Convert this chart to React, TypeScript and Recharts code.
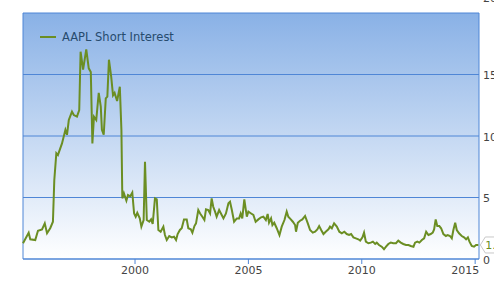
import React from 'react';
import { LineChart, Line, XAxis, YAxis, CartesianGrid, Legend, LabelList } from 'recharts';

const seriesName = 'AAPL Short Interest';

const years = [
  1995.06, 1995.31, 1995.38, 1995.60, 1995.72, 1995.90, 1996.02, 1996.12, 1996.26, 1996.38,
  1996.44, 1996.53, 1996.60, 1996.78, 1996.93, 1997.00, 1997.08, 1997.22, 1997.30, 1997.44,
  1997.54, 1997.60, 1997.71, 1997.85, 1997.96, 1998.05, 1998.12, 1998.19, 1998.29, 1998.40,
  1998.49, 1998.54, 1998.62, 1998.71, 1998.78, 1998.85, 1998.95, 1999.03, 1999.10, 1999.21,
  1999.33, 1999.40, 1999.44, 1999.51, 1999.62, 1999.69, 1999.79, 1999.88, 1999.96, 2000.03,
  2000.10, 2000.21, 2000.28, 2000.38, 2000.44, 2000.52, 2000.63, 2000.71, 2000.78, 2000.88,
  2000.96, 2001.03, 2001.13, 2001.25, 2001.32, 2001.40, 2001.51, 2001.62, 2001.72, 2001.81,
  2001.88, 2001.98, 2002.06, 2002.16, 2002.28, 2002.35, 2002.46, 2002.53, 2002.62, 2002.69,
  2002.79, 2002.87, 2002.97, 2003.06, 2003.13, 2003.23, 2003.31, 2003.38, 2003.45, 2003.53,
  2003.60, 2003.71, 2003.79, 2003.90, 2004.01, 2004.12, 2004.19, 2004.27, 2004.37, 2004.49,
  2004.59, 2004.66, 2004.73, 2004.82, 2004.93, 2005.00, 2005.12, 2005.22, 2005.32, 2005.44,
  2005.56, 2005.66, 2005.77, 2005.85, 2005.91, 2006.00, 2006.06, 2006.14, 2006.25, 2006.37,
  2006.47, 2006.59, 2006.69, 2006.76, 2006.87, 2006.96, 2007.06, 2007.10, 2007.18, 2007.28,
  2007.38, 2007.50, 2007.62, 2007.72, 2007.84, 2007.94, 2008.04, 2008.12, 2008.21, 2008.31,
  2008.41, 2008.53, 2008.60, 2008.68, 2008.78, 2008.90, 2009.01, 2009.12, 2009.23, 2009.34,
  2009.44, 2009.53, 2009.63, 2009.74, 2009.85, 2009.93, 2010.03, 2010.10, 2010.18, 2010.29,
  2010.40, 2010.49, 2010.59, 2010.66, 2010.76, 2010.88, 2010.98, 2011.07, 2011.17, 2011.28,
  2011.39, 2011.51, 2011.61, 2011.72, 2011.83, 2011.95, 2012.06, 2012.16, 2012.28, 2012.35,
  2012.45, 2012.54, 2012.65, 2012.75, 2012.84, 2012.94, 2013.04, 2013.13, 2013.19, 2013.26,
  2013.33, 2013.42, 2013.50, 2013.60, 2013.71, 2013.79, 2013.89, 2013.97, 2014.04, 2014.12,
  2014.19, 2014.29, 2014.41, 2014.51, 2014.60, 2014.68, 2014.75, 2014.85, 2014.95, 2015.04,
  2015.14,
];

const shortInterest = [
  1.28, 2.14, 1.60, 1.54, 2.30, 2.41, 2.90, 2.09, 2.50, 3.03,
  6.40, 8.60, 8.45, 9.40, 10.50, 10.10, 11.30, 11.98, 11.70, 11.57,
  12.10, 16.85, 15.40, 17.05, 15.50, 15.20, 9.40, 11.57, 11.30, 13.50,
  12.40, 10.50, 10.10, 13.06, 13.20, 16.20, 14.80, 13.30, 13.50, 12.85,
  14.00, 10.50, 4.93, 5.34, 4.74, 5.20, 5.10, 5.40, 3.70, 3.44,
  3.76, 3.30, 2.63, 3.17, 7.90, 3.17, 3.03, 3.22, 2.85, 4.93,
  4.85, 2.36, 2.22, 2.63, 1.95, 1.54, 1.87, 1.76, 1.81, 1.54,
  2.03, 2.36, 2.50, 3.22, 3.22, 2.50, 2.41, 2.14, 2.68, 2.90,
  3.98, 3.70, 3.44, 3.17, 4.04, 3.98, 3.70, 4.93, 4.25, 3.85,
  3.44, 3.98, 3.70, 3.30, 3.70, 4.53, 4.66, 3.98, 3.03, 3.30,
  3.30, 3.70, 3.30, 4.85, 3.44, 3.85, 3.70, 3.58, 3.03, 3.22,
  3.39, 3.44, 3.17, 3.66, 2.95, 3.30, 2.76, 2.95, 2.50, 1.95,
  2.63, 3.17, 3.85, 3.44, 3.22, 3.03, 2.76, 2.22, 2.95, 3.11,
  3.22, 3.50, 2.90, 2.36, 2.14, 2.22, 2.41, 2.68, 2.36, 2.03,
  2.22, 2.41, 2.63, 2.50, 2.90, 2.63, 2.22, 2.09, 2.22, 2.03,
  1.95, 2.03, 1.76, 1.68, 1.60, 1.49, 1.76, 2.14, 1.41, 1.28,
  1.33, 1.41, 1.22, 1.33, 1.14, 1.00, 0.79, 1.00, 1.22, 1.33,
  1.28, 1.28, 1.49, 1.33, 1.22, 1.14, 1.14, 1.06, 1.00, 1.33,
  1.41, 1.33, 1.54, 1.68, 2.22, 1.95, 2.03, 2.14, 2.41, 3.22,
  2.68, 2.68, 2.50, 2.03, 1.87, 1.95, 1.87, 1.68, 2.36, 2.95,
  2.36, 2.09, 1.87, 1.76, 1.60, 1.76, 1.41, 1.06, 1.00, 1.14,
  1.14,
];

const xTicks = [2000, 2005, 2010, 2015];
const yTicks = [0, 5, 10, 15, 20];
const xDomain = [1995.06, 2015.17];

const data = years.map((t, i) => ({ t, v: shortInterest[i] }));

const lineColor = '#6b8e23';
const gridColor = '#4f86d6';
const font = 'DejaVu Sans, sans-serif';

const XTick = (props: any) => {
  const { x, y, payload } = props;
  const isLast = payload.value === xTicks[xTicks.length - 1];
  return (
    <text
      x={isLast ? x + 4 : x}
      y={y}
      dy="0.71em"
      textAnchor={isLast ? 'end' : 'middle'}
      fill="#444"
      fontSize={11}
      fontFamily={font}
    >
      {payload.value}
    </text>
  );
};

const YTick = (props: any) => {
  const { x, y, payload } = props;
  const isTop = payload.value === yTicks[yTicks.length - 1];
  return (
    <text
      x={x}
      y={isTop ? y - 15 : y + 1}
      dy="0.355em"
      textAnchor="start"
      fill="#444"
      fontSize={11}
      fontFamily={font}
    >
      {payload.value}
    </text>
  );
};

const LastLabel = (props: any) => {
  const { x, y, value, index } = props;
  if (index !== data.length - 1) return null;
  const x0 = x + 2;
  return (
    <g>
      <path
        d={`M${x0} ${y} L${x0 + 5} ${y - 8} L${x0 + 40} ${y - 8} L${x0 + 40} ${y + 8} L${x0 + 5} ${y + 8} Z`}
        fill="#ffffff"
        stroke="#c8c8c8"
        strokeWidth={1}
      />
      <text x={x0 + 5} y={y} dy="0.355em" fill={lineColor} fontSize={11} fontFamily={font}>
        {Number(value).toFixed(2)}
      </text>
    </g>
  );
};

const LegendContent = () => (
  <div
    style={{
      display: 'flex',
      alignItems: 'center',
      fontFamily: font,
      fontSize: 11.5,
      color: '#274b6d',
      whiteSpace: 'nowrap',
    }}
  >
    <svg width={16} height={4} style={{ display: 'block' }}>
      <line x1={0} y1={2} x2={16} y2={2} stroke={lineColor} strokeWidth={2} />
    </svg>
    <span style={{ marginLeft: 6 }}>{seriesName}</span>
  </div>
);

export default function App() {
  return (
    <div style={{ position: 'absolute', left: 0, top: 0, width: 494, height: 284 }}>
      <LineChart
        width={494}
        height={284}
        data={data}
        margin={{ top: 13, right: 0, bottom: 0, left: 23 }}
      >
        <defs>
          <linearGradient id="plotBg" x1="0" y1="0" x2="0" y2="1">
            <stop offset="0%" stopColor="#89b1e6" />
            <stop offset="100%" stopColor="#ffffff" />
          </linearGradient>
        </defs>
        <CartesianGrid
          stroke={gridColor}
          fill="url(#plotBg)"
          fillOpacity={1}
          vertical
          verticalCoordinatesGenerator={({ offset }: any) => [offset.left, offset.left + offset.width]}
        />
        <XAxis
          dataKey="t"
          type="number"
          domain={xDomain}
          ticks={xTicks}
          height={25}
          axisLine={{ stroke: gridColor }}
          tickLine={{ stroke: gridColor }}
          tickSize={5}
          tickMargin={2}
          tick={<XTick />}
        />
        <YAxis
          orientation="right"
          type="number"
          domain={[0, 20]}
          ticks={yTicks}
          width={15}
          axisLine={false}
          tickLine={false}
          tickSize={0}
          tickMargin={4}
          tick={<YTick />}
        />
        <Legend
          layout="vertical"
          align="center"
          verticalAlign="middle"
          wrapperStyle={{ left: 40, top: 30, width: 'auto', height: 'auto' }}
          content={<LegendContent />}
        />
        <Line
          type="linear"
          dataKey="v"
          name={seriesName}
          stroke={lineColor}
          strokeWidth={2}
          dot={false}
          activeDot={false}
          isAnimationActive={false}
        >
          <LabelList dataKey="v" content={<LastLabel />} />
        </Line>
      </LineChart>
    </div>
  );
}
